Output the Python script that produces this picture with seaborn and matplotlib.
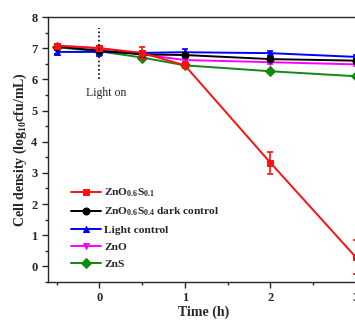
import numpy as np
import pandas as pd
import matplotlib
matplotlib.use("Agg")
import matplotlib.pyplot as plt
import seaborn as sns

# ---- data ----
time = [-0.5, 0, 0.5, 1, 2, 3]
series_names = ["ZnO$_{0.6}$S$_{0.1}$", "ZnO$_{0.6}$S$_{0.4}$ dark control",
                "Light control", "ZnO", "ZnS"]
znos = [7.08, 7.00, 6.85, 6.45, 3.33, 0.30]
znos_err = [0.05, 0.05, 0.20, 0.10, 0.35, 0.55]
dark = [7.05, 6.92, 6.80, 6.78, 6.65, 6.60]
dark_err = [0.05, 0.08, 0.05, 0.05, 0.05, 0.05]
light = [6.88, 6.88, 6.85, 6.87, 6.84, 6.72]
light_err = [0.06, 0.12, 0.05, 0.10, 0.08, 0.06]
zno = [7.08, 7.00, 6.80, 6.62, 6.55, 6.48]
zno_err = [0.05, 0.05, 0.05, 0.05, 0.05, 0.05]
zns = [7.03, 6.90, 6.70, 6.45, 6.26, 6.10]
zns_err = [0.05, 0.05, 0.05, 0.05, 0.05, 0.05]
x_ticks = [0, 1, 2, 3]
y_ticks = [0, 1, 2, 3, 4, 5, 6, 7, 8]

colors = ["#ff1010", "#000000", "#0000ff", "#ff00ff", "#118811"]
markers = ["s", "o", "^", "v", "D"]

values = [znos, dark, light, zno, zns]
errs = [znos_err, dark_err, light_err, zno_err, zns_err]
rows = []
for name, v, e in zip(series_names, values, errs):
    for t, vv, ee in zip(time, v, e):
        rows.append({"time": t, "density": vv, "err": ee, "series": name})
df = pd.DataFrame(rows)

sns.set_style("ticks")
plt.rcParams["font.family"] = ["Liberation Serif", "DejaVu Serif"]
plt.rcParams["mathtext.fontset"] = "custom"
plt.rcParams["mathtext.rm"] = "Liberation Serif:bold"
plt.rcParams["mathtext.bf"] = "Liberation Serif:bold"
plt.rcParams["mathtext.it"] = "Liberation Serif:italic:bold"

fig = plt.figure(figsize=(3.55, 3.2), dpi=100)
ax = fig.add_axes([48 / 355, 38 / 320, (360 - 48) / 355, (282 - 17) / 320])

order = list(range(len(series_names)))[::-1]
for i in order:
    name = series_names[i]
    d = df[df["series"] == name]
    ax.errorbar(d["time"], d["density"], yerr=d["err"], fmt="none",
                ecolor=colors[i], elinewidth=1.2, capsize=2.5, capthick=1.2,
                zorder=2 + (len(order) - i))
    sns.lineplot(data=d, x="time", y="density", color=colors[i],
                 marker=markers[i], markersize=5, markeredgecolor=colors[i],
                 linewidth=1.4, ax=ax, label=name, zorder=3 + (len(order) - i),
                 legend=False)

ax.set_xlim(-0.6, 3.05)
ax.set_ylim(-0.5, 8)
ax.set_xticks(x_ticks)
ax.set_xticks([-0.5, 0.5, 1.5, 2.5], minor=True)
ax.set_yticks(y_ticks)
ax.set_yticks(np.arange(-0.5, 8.0, 1.0), minor=True)
ax.tick_params(axis="both", which="major", length=4, width=1, direction="out",
               labelsize=9)
ax.tick_params(axis="both", which="minor", length=2.5, width=1, direction="out")
for lab in ax.get_xticklabels() + ax.get_yticklabels():
    lab.set_fontweight("bold")
for sp in ax.spines.values():
    sp.set_linewidth(1.0)

# Light on marker
ax.plot([0, 0], [6.0, 7.65], linestyle=(0, (1, 1.5)), color="black", linewidth=1.2,
        zorder=10)
ax.text(0.08, 5.55, "Light on", fontsize=8.5, ha="center", va="center")

ax.set_xlabel("Time (h)", fontsize=10, fontweight="bold", labelpad=1)
ax.set_ylabel("Cell density (log$_{10}$cfu/mL)", fontsize=10, fontweight="bold",
              labelpad=2)

handles, labels = ax.get_legend_handles_labels()
hl = dict(zip(labels, handles))
leg = ax.legend([hl[n] for n in series_names], series_names, loc="upper left",
                bbox_to_anchor=(0.075, 0.36), frameon=False, fontsize=8.2,
                handlelength=2.6, labelspacing=0.6, borderaxespad=0,
                borderpad=0, handletextpad=0.3)
for t in leg.get_texts():
    t.set_fontweight("bold")

fig.savefig("out.png", dpi=100)
